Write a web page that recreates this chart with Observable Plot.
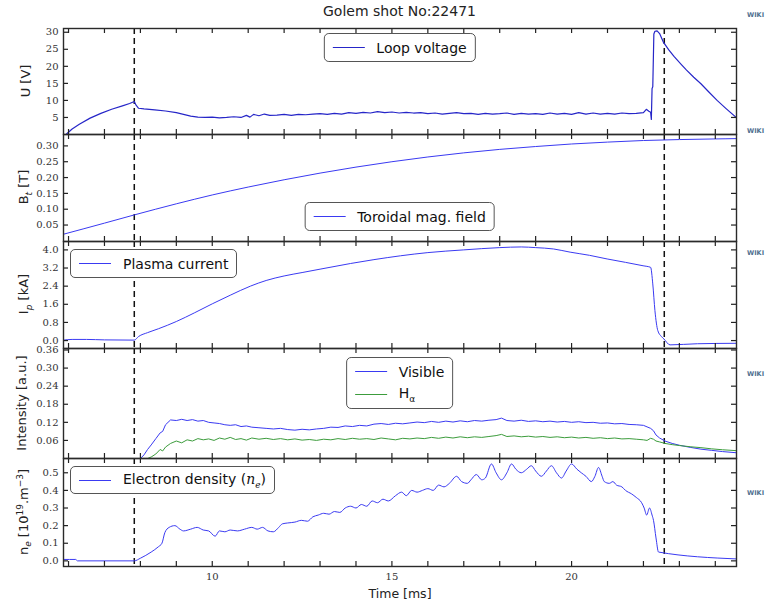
<!DOCTYPE html>
<html><head><meta charset="utf-8">
<script src="https://cdn.jsdelivr.net/npm/d3@7"></script>
<script src="https://cdn.jsdelivr.net/npm/@observablehq/plot@0.6"></script>
<style>
body{margin:0;background:#fff;}
#chart{position:relative;width:765px;height:608px;font-family:"DejaVu Sans",sans-serif;overflow:hidden;background:#fff;}
.panel{position:absolute;left:0;}
.panel svg{overflow:visible;}
.ylab{position:absolute;transform:translate(-50%,-50%) rotate(-90deg);white-space:nowrap;font-size:13px;color:#222;}
.ylab sub,.ylab sup{font-size:9px;}
.legend{position:absolute;box-sizing:border-box;border:1.2px solid #555;border-radius:5px;background:#fff;font-size:14px;color:#111;display:flex;flex-direction:column;justify-content:center;padding:0 8px 0 8px;white-space:nowrap;}
.legend.center{transform:translateX(-50%);}
.row{display:flex;align-items:center;height:23px;}
.sample{width:32px;height:0;margin-right:12px;flex:none;}
.wiki{position:absolute;left:747px;font-size:6.5px;font-weight:bold;color:#4f6f8f;white-space:nowrap;}
.title{position:absolute;left:63px;width:673px;top:3px;text-align:center;font-size:14px;color:#222;}
</style></head><body><div id="chart"></div><script>
// ---------- data ----------
const xDomain = [5.86, 24.59];
const xTicks = [6,7,8,9,10,11,12,13,14,15,16,17,18,19,20,21,22,23,24];
const xLabelTicks = [10,15,20];
const dashTimes = [7.83, 22.58];

const uTicks = [5,10,15,20,25,30];
const bTicks = [0.05,0.10,0.15,0.20,0.25,0.30];
const iTicks = [0.0,0.8,1.6,2.4,3.2,4.0];
const intTicks = [0.06,0.12,0.18,0.24,0.30,0.36];
const nTicks = [0.0,0.1,0.2,0.3,0.4,0.5];

// Loop voltage
const uT = [5.95,6.1,6.3,6.6,6.9,7.2,7.5,7.7,7.83,7.88,7.95,8.1,8.4,8.7,9.0,9.2,9.4,9.6,9.8,10.0,10.2,10.4,10.6,10.8,10.95,11.05,11.15,11.3,11.45,11.6,11.8,12.0,12.2,12.4,12.6,12.8,13.0,13.2,13.4,13.6,13.8,14.0,14.2,14.4,14.6,14.8,15.0,15.2,15.4,15.6,15.8,16.0,16.2,16.4,16.6,16.8,17.0,17.2,17.4,17.6,17.8,18.0,18.2,18.4,18.6,18.8,19.0,19.2,19.4,19.6,19.8,20.0,20.2,20.4,20.6,20.8,21.0,21.2,21.4,21.6,21.8,22.0,22.08,22.15,22.2,22.22,22.24,22.26,22.29,22.32,22.38,22.45,22.55,22.7,22.85,23.05,23.2,23.4,23.6,23.8,24.05,24.3,24.57];
const uV = [0.2,1.6,3.0,4.8,6.2,7.4,8.4,9.1,9.7,8.6,7.7,7.5,7.2,6.9,6.4,5.9,5.4,5.1,5.0,5.1,4.9,5.0,5.2,5.0,5.6,5.1,5.9,5.5,6.0,5.6,5.7,5.9,5.6,5.9,5.8,6.0,6.1,5.9,6.2,6.0,6.4,6.2,6.5,6.3,6.7,6.4,6.6,6.3,6.5,6.3,6.4,6.1,6.3,6.0,6.2,6.4,6.1,6.2,5.9,6.2,6.0,6.1,6.3,5.9,6.2,6.0,6.1,5.9,6.3,6.0,6.2,5.9,6.4,6.0,6.3,6.0,6.2,6.0,6.3,6.1,6.2,6.4,7.4,6.8,6.5,4.4,13.5,14.0,29.5,30.3,30.4,29.6,27.2,24.9,22.9,20.6,18.9,16.8,14.9,12.7,10.0,7.6,5.1];

// Toroidal magnetic field
const bT = [5.86,7.0,7.83,9.0,10.0,11.0,12.0,13.0,14.0,15.0,16.0,17.0,18.0,19.0,20.0,21.0,22.0,23.0,24.0,24.59];
const bV = [0.021,0.056,0.082,0.117,0.145,0.170,0.193,0.214,0.233,0.250,0.265,0.278,0.289,0.298,0.306,0.312,0.317,0.320,0.322,0.323];

// Plasma current
const iT = [5.86,6.1,6.5,7.0,7.83,7.95,8.2,8.5,9.0,9.5,10.0,10.5,11.06,11.5,12.0,12.5,13.0,13.85,14.5,15.24,16.0,17.0,18.0,18.6,19.0,19.5,19.96,20.5,20.99,21.5,21.99,22.2,22.26,22.32,22.4,22.5,22.57,22.74,23.5,24.59];
const iV = [0.02,0.05,0.05,0.03,0.02,0.18,0.35,0.52,0.84,1.22,1.62,2.0,2.4,2.65,2.85,3.0,3.15,3.4,3.57,3.74,3.88,4.0,4.1,4.13,4.1,4.04,3.9,3.76,3.6,3.45,3.3,3.23,2.5,1.32,0.44,0.18,0.07,-0.19,-0.14,-0.12];

// Intensity (Visible, H-alpha)
const intT = [5.86,8.0,8.1,8.2,8.3,8.43,8.55,8.62,8.7,8.84,9.0,9.15,9.3,9.45,9.6,9.75,9.9,10.05,10.2,10.35,10.5,10.65,10.8,10.95,11.1,11.3,11.5,11.7,11.9,12.1,12.3,12.5,12.7,12.9,13.1,13.3,13.5,13.7,13.9,14.1,14.3,14.5,14.7,14.9,15.1,15.3,15.5,15.7,15.9,16.1,16.3,16.5,16.7,16.9,17.1,17.3,17.5,17.7,17.9,18.05,18.2,18.4,18.6,18.8,19.0,19.2,19.4,19.6,19.8,20.0,20.2,20.4,20.6,20.8,21.0,21.2,21.4,21.6,21.8,22.0,22.1,22.2,22.28,22.35,22.45,22.6,22.8,23.0,23.3,23.6,23.9,24.2,24.59];
const visV = [0,0,0.012,0.03,0.045,0.066,0.085,0.09,0.112,0.128,0.126,0.13,0.126,0.129,0.124,0.126,0.12,0.118,0.116,0.112,0.11,0.112,0.106,0.108,0.104,0.102,0.1,0.098,0.1,0.096,0.094,0.097,0.095,0.098,0.1,0.104,0.103,0.108,0.106,0.11,0.108,0.114,0.116,0.113,0.117,0.115,0.118,0.121,0.119,0.123,0.12,0.124,0.121,0.125,0.122,0.126,0.124,0.127,0.129,0.134,0.126,0.124,0.127,0.123,0.125,0.122,0.124,0.121,0.123,0.12,0.122,0.119,0.12,0.117,0.118,0.115,0.116,0.113,0.112,0.11,0.105,0.1,0.092,0.078,0.068,0.058,0.05,0.044,0.037,0.031,0.027,0.023,0.019];
const haV = [0,0,0,0,0.005,0.015,0.03,0.025,0.038,0.05,0.058,0.052,0.062,0.058,0.066,0.062,0.065,0.06,0.068,0.064,0.07,0.063,0.066,0.061,0.068,0.064,0.067,0.063,0.066,0.062,0.065,0.061,0.063,0.06,0.064,0.062,0.066,0.063,0.067,0.064,0.066,0.063,0.068,0.065,0.062,0.067,0.065,0.068,0.066,0.07,0.067,0.071,0.068,0.072,0.069,0.072,0.07,0.073,0.076,0.08,0.073,0.075,0.072,0.074,0.071,0.073,0.07,0.072,0.069,0.071,0.068,0.07,0.067,0.069,0.066,0.068,0.065,0.066,0.064,0.062,0.06,0.067,0.064,0.058,0.055,0.05,0.046,0.043,0.039,0.036,0.032,0.029,0.026];

// Electron density
const nT = [5.86,6.2,6.25,7.83,8.0,8.3,8.5,8.6,8.68,8.8,8.96,9.1,9.2,9.4,9.58,9.75,9.9,10.08,10.2,10.35,10.5,10.7,10.9,11.1,11.25,11.4,11.55,11.7,11.85,11.95,12.1,12.3,12.48,12.65,12.8,12.95,13.1,13.25,13.4,13.55,13.7,13.85,14.0,14.15,14.3,14.45,14.6,14.75,14.9,15.1,15.27,15.4,15.55,15.7,15.85,16.0,16.15,16.3,16.45,16.6,16.8,16.94,17.1,17.2,17.35,17.5,17.6,17.77,17.9,18.05,18.2,18.33,18.45,18.6,18.75,18.88,19.0,19.16,19.3,19.44,19.58,19.72,19.85,20.0,20.15,20.27,20.4,20.55,20.65,20.75,20.85,20.91,21.05,21.15,21.25,21.4,21.5,21.67,21.8,21.95,22.02,22.09,22.17,22.24,22.28,22.35,22.42,24.59];
const nV = [0.008,0.008,0.0,0.0,0.015,0.05,0.08,0.1,0.16,0.19,0.2,0.18,0.17,0.18,0.19,0.175,0.17,0.14,0.17,0.165,0.175,0.17,0.18,0.19,0.18,0.19,0.17,0.165,0.19,0.21,0.215,0.22,0.23,0.225,0.25,0.26,0.27,0.265,0.28,0.275,0.3,0.31,0.3,0.32,0.31,0.34,0.33,0.35,0.34,0.37,0.39,0.37,0.4,0.39,0.4,0.41,0.4,0.43,0.42,0.44,0.48,0.45,0.44,0.46,0.49,0.46,0.47,0.55,0.5,0.46,0.5,0.55,0.52,0.5,0.52,0.54,0.51,0.48,0.51,0.54,0.5,0.47,0.51,0.55,0.52,0.5,0.48,0.45,0.48,0.53,0.48,0.45,0.44,0.45,0.43,0.42,0.4,0.38,0.36,0.33,0.3,0.26,0.3,0.26,0.23,0.13,0.05,0.011];

// ---------- drawing ----------
const BLUE = "#3a3af2", BLUE_DARK = "#2626c8", GREEN = "#3c9c3c";
const zip = (t, v) => t.map((d, i) => ({t: d, v: v[i]}));
const chart = document.getElementById("chart");
const LEFT = 63, RIGHT = 736, W = RIGHT - LEFT;
const tickFont = "DejaVu Serif";

function panel({top, bottom, domain, yTicks, fmt, marks, last}) {
  const h = bottom - top;
  const mb = last ? 42 : 0;
  const tl = 5;
  const m = [
    Plot.ruleX(dashTimes, {x: d => d, stroke: "#111", strokeWidth: 1.5, strokeDasharray: "6,4"}),
    ...marks,
    Plot.tickX(xTicks, {x: d => d, insetBottom: h - tl, stroke: "#222", strokeWidth: 1.2}),
    Plot.tickX(xTicks, {x: d => d, insetTop: h - tl, stroke: "#222", strokeWidth: 1.2}),
    Plot.tickY(yTicks, {y: d => d, insetRight: W - tl, stroke: "#222", strokeWidth: 1.2}),
    Plot.tickY(yTicks, {y: d => d, insetLeft: W - tl, stroke: "#222", strokeWidth: 1.2}),
    Plot.axisY(yTicks, {tickSize: 0, tickPadding: 5, tickFormat: d3.format(fmt), fontFamily: tickFont, fontSize: 10, fill: "#333", label: null}),
    Plot.frame({stroke: "#2a2a2a", strokeWidth: 1.4})
  ];
  if (last) {
    m.push(Plot.axisX(xLabelTicks, {tickSize: 0, tickPadding: 6, fontFamily: tickFont, fontSize: 10, fill: "#333", label: null}));
    m.push(Plot.text(["Time [ms]"], {text: d => d, frameAnchor: "bottom", dy: 31, fontSize: 12.5, fontFamily: "DejaVu Sans", fill: "#222"}));
  }
  const svg = Plot.plot({
    width: 765, height: h + mb,
    marginLeft: LEFT, marginRight: 765 - RIGHT, marginTop: 0, marginBottom: mb,
    x: {domain: xDomain, axis: null},
    y: {domain, axis: null},
    style: {overflow: "visible", background: "transparent"},
    marks: m
  });
  const div = document.createElement("div");
  div.className = "panel";
  div.style.top = top + "px";
  div.appendChild(svg);
  chart.appendChild(div);
}

panel({top: 28, bottom: 134, domain: [0, 31.1], yTicks: uTicks, fmt: "d",
  marks: [Plot.line(zip(uT, uV), {x: "t", y: "v", stroke: BLUE_DARK, strokeWidth: 1.2, clip: true})]});
panel({top: 134, bottom: 241, domain: [-0.002, 0.336], yTicks: bTicks, fmt: ".2f",
  marks: [Plot.line(zip(bT, bV), {x: "t", y: "v", stroke: BLUE, strokeWidth: 1, curve: "monotone-x", clip: true})]});
panel({top: 241, bottom: 348, domain: [-0.35, 4.37], yTicks: iTicks, fmt: ".1f",
  marks: [Plot.line(zip(iT, iV), {x: "t", y: "v", stroke: BLUE, strokeWidth: 1, curve: "monotone-x", clip: true})]});
panel({top: 348, bottom: 458, domain: [0, 0.365], yTicks: intTicks, fmt: ".2f",
  marks: [
    Plot.line(zip(intT, visV), {x: "t", y: "v", stroke: BLUE, strokeWidth: 1, clip: true}),
    Plot.line(zip(intT, haV), {x: "t", y: "v", stroke: GREEN, strokeWidth: 1, clip: true})
  ]});
panel({top: 458, bottom: 566, domain: [-0.032, 0.581], yTicks: nTicks, fmt: ".1f", last: true,
  marks: [Plot.line(zip(nT, nV), {x: "t", y: "v", stroke: BLUE, strokeWidth: 1, curve: "monotone-x", clip: true})]});

// title
const title = document.createElement("div");
title.className = "title";
title.textContent = "Golem shot No:22471";
chart.appendChild(title);

// y labels
const yLabels = [
  {x: 25, y: 81, html: "U [V]"},
  {x: 25, y: 187, html: "B<sub><i>t</i></sub> [T]"},
  {x: 25, y: 294, html: "I<sub><i>p</i></sub> [kA]"},
  {x: 21, y: 403, html: "Intensity [a.u.]"},
  {x: 24, y: 512, html: "n<sub><i>e</i></sub> [10<sup>19</sup>.m<sup>−3</sup>]"}
];
for (const l of yLabels) {
  const d = document.createElement("div");
  d.className = "ylab";
  d.style.left = l.x + "px"; d.style.top = l.y + "px";
  d.innerHTML = l.html;
  chart.appendChild(d);
}

// legends (centered ones sit on the axes centre, like matplotlib "upper/lower center")
const legends = [
  {left: 399.5, center: true, top: 33, h: 29, items: [[BLUE_DARK, "Loop voltage"]]},
  {left: 399.5, center: true, top: 202, h: 29, items: [[BLUE, "Toroidal mag. field"]]},
  {left: 70, top: 249, h: 29, items: [[BLUE, "Plasma current"]]},
  {left: 399.5, center: true, top: 357, h: 52, items: [[BLUE, "Visible"], [GREEN, "H<sub style='font-size:9px'>α</sub>"]]},
  {left: 70, top: 466, h: 28, items: [[BLUE, "Electron density (<i style='font-family:DejaVu Serif'>n<sub style='font-size:9px'>e</sub></i>)"]]}
];
for (const L of legends) {
  const d = document.createElement("div");
  d.className = "legend" + (L.center ? " center" : "");
  Object.assign(d.style, {left: L.left + "px", top: L.top + "px", height: L.h + "px"});
  d.innerHTML = L.items.map(([c, t]) => `<div class="row"><div class="sample" style="border-top:1px solid ${c}"></div><span>${t}</span></div>`).join("");
  chart.appendChild(d);
}

// wiki links
for (const y of [11, 127, 249, 370, 489]) {
  const d = document.createElement("div");
  d.className = "wiki";
  d.style.top = y + "px";
  d.textContent = "WIKI";
  chart.appendChild(d);
}
</script></body></html>
